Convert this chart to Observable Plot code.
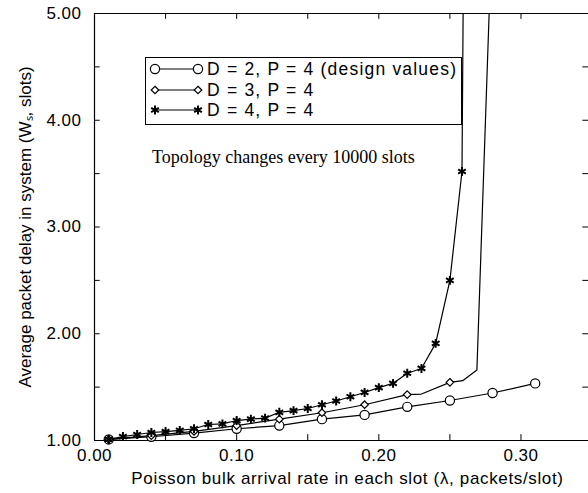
<!DOCTYPE html>
<html><head><meta charset="utf-8">
<script src="https://cdn.jsdelivr.net/npm/d3@7"></script>
<script src="https://cdn.jsdelivr.net/npm/@observablehq/plot@0.6"></script>
<style>
html,body{margin:0;padding:0;background:#fff;}
#wrap{position:relative;width:588px;height:493px;font-family:"Liberation Sans",Arial,sans-serif;color:#000;}
#legend{position:absolute;left:145px;top:57px;width:317px;height:68px;border:1px solid #000;box-sizing:border-box;}
#note{position:absolute;left:152px;top:146px;font-family:"Liberation Serif","Times New Roman",serif;font-size:18px;line-height:22px;white-space:nowrap;}
#chart svg text{letter-spacing:0.5px;}
</style></head>
<body><div id="wrap"><div id="chart"></div><div id="legend"></div><div id="note">Topology changes every 10000 slots</div></div>
<script>
// ---- data ----
const seriesNames = ["D = 2, P = 4 (design values)", "D = 3, P = 4", "D = 4, P = 4"];
// D = 2 (circles)
const d2x = [0.01,0.04,0.07,0.10,0.13,0.16,0.19,0.22,0.25,0.28,0.31];
const d2y = [1.01,1.035,1.07,1.11,1.14,1.20,1.24,1.315,1.375,1.445,1.535];
// D = 3 (diamonds): markers, then full line vertices
const d3mx = [0.01,0.04,0.07,0.10,0.13,0.16,0.19,0.22,0.25];
const d3my = [1.01,1.045,1.085,1.14,1.20,1.26,1.335,1.43,1.545];
const d3lx = [0.01,0.04,0.07,0.10,0.13,0.16,0.19,0.22,0.23,0.25,0.259,0.269,0.2776];
const d3ly = [1.01,1.045,1.085,1.14,1.20,1.26,1.335,1.43,1.435,1.545,1.56,1.66,5.0];
// D = 4 (stars)
const d4mx = [0.01,0.02,0.03,0.04,0.05,0.06,0.07,0.08,0.09,0.10,0.11,0.12,0.13,0.14,0.15,0.16,0.17,0.18,0.19,0.20,0.21,0.22,0.23,0.24,0.25,0.2585];
const d4my = [1.01,1.037,1.056,1.075,1.084,1.095,1.11,1.15,1.156,1.187,1.20,1.21,1.264,1.28,1.30,1.335,1.37,1.41,1.45,1.495,1.535,1.63,1.675,1.91,2.50,3.52];
const d4tailx = [0.2593];
const d4taily = [5.0];
// axis ticks
const xTickLabels = [0, 0.10, 0.20, 0.30];
const xMinorTicks = [0.05,0.10,0.15,0.20,0.25,0.30];
const yTickLabels = [1, 2, 3, 4, 5];
const yMinorTicks = [1.5,2,2.5,3,3.5,4,4.5];
const xLabel = "Poisson bulk arrival rate in each slot (\u03bb, packets/slot)";
const yLabel = "Average packet delay in system (W\u209b, slots)";

// ---- build tables ----
const zip = (xs, ys) => xs.map((x, i) => ({x, y: ys[i]}));
const d2 = zip(d2x, d2y);
const d3m = zip(d3mx, d3my), d3l = zip(d3lx, d3ly);
const d4m = zip(d4mx, d4my), d4l = d4m.concat(zip(d4tailx, d4taily));

const xMax = 0.3475;
const tx = 0.004, ty = 0.055;

const chart = Plot.plot({
  width: 588, height: 493,
  marginLeft: 94, marginRight: 0, marginTop: 13, marginBottom: 53,
  style: {fontSize: "17px", fontFamily: "Liberation Sans, Arial, sans-serif", color: "#000", background: "#fff"},
  x: {domain: [0, xMax]},
  y: {domain: [1, 5]},
  marks: [
    // frame lines
    Plot.ruleY([1, 5], {stroke: "#000", strokeWidth: 1.2}),
    Plot.ruleX([0], {stroke: "#000", strokeWidth: 1.2}),
    // inward ticks
    Plot.ruleY(yMinorTicks, {y: d => d, x1: 0, x2: tx, stroke: "#000"}),
    Plot.ruleY(yMinorTicks, {y: d => d, x1: xMax - tx, x2: xMax, stroke: "#000"}),
    Plot.ruleX(xMinorTicks, {x: d => d, y1: 1, y2: 1 + ty, stroke: "#000"}),
    Plot.ruleX(xMinorTicks, {x: d => d, y1: 5 - ty, y2: 5, stroke: "#000"}),
    // tick labels
    Plot.axisX({ticks: xTickLabels, tickFormat: d3.format(".2f"), tickSize: 0, tickPadding: 8, label: null, fontSize: 17}),
    Plot.axisY({ticks: yTickLabels, tickFormat: d3.format(".2f"), tickSize: 0, tickPadding: 13, label: null, fontSize: 17}),
    // axis titles
    Plot.text([xLabel], {text: d => d, frameAnchor: "bottom", textAnchor: "middle", lineAnchor: "middle", dx: 6, dy: 38, fontSize: 17}),
    Plot.text([yLabel], {text: d => d, frameAnchor: "left", textAnchor: "middle", lineAnchor: "middle", dx: -69, dy: 0, rotate: -90, fontSize: 17}),
    // series
    Plot.line(d2, {x: "x", y: "y", stroke: "#000", strokeWidth: 1.2, clip: true}),
    Plot.dot(d2, {x: "x", y: "y", symbol: "circle", r: 4.6, stroke: "#000", fill: "#fff", strokeWidth: 1.2}),
    Plot.line(d3l, {x: "x", y: "y", stroke: "#000", strokeWidth: 1.2, clip: true}),
    Plot.dot(d3m, {x: "x", y: "y", symbol: "diamond2", r: 3.4, stroke: "#000", fill: "#fff", strokeWidth: 1.2}),
    Plot.line(d4l, {x: "x", y: "y", stroke: "#000", strokeWidth: 1.2, clip: true}),
    Plot.dot(d4m, {x: "x", y: "y", symbol: "asterisk", r: 4.2, stroke: "#000", strokeWidth: 2})
  ]
});
document.getElementById("chart").appendChild(chart);
// per-text spacing tweaks to match the original typeface widths
d3.select(chart).selectAll("text").filter(function () { return this.textContent === xLabel; }).style("letter-spacing", "0.65px");
d3.select(chart).selectAll("text").filter(function () { return this.textContent === yLabel; }).style("letter-spacing", "0px");

// ---- legend (inside plot area, as in the original) ----
const symSpecs = [
  {sym: d3.symbolCircle, r: 4.6, fill: "#fff", sw: 1.2},
  {sym: d3.symbolDiamond2, r: 3.4, fill: "#fff", sw: 1.2},
  {sym: d3.symbolAsterisk, r: 4.2, fill: "none", sw: 2}
];
const rowY = [12, 33, 53];
const lsvg = d3.create("svg").attr("width", 315).attr("height", 66)
  .style("position", "absolute").style("left", "0").style("top", "0").style("overflow", "visible");
seriesNames.forEach((name, i) => {
  const g = lsvg.append("g").attr("transform", `translate(0,${rowY[i] - 1})`);
  g.append("line").attr("x1", 9).attr("x2", 52).attr("y1", 0).attr("y2", 0).attr("stroke", "#000").attr("stroke-width", 1.2);
  const s = symSpecs[i];
  const p = d3.symbol(s.sym, Math.PI * s.r * s.r)();
  [9, 52].forEach(cx => g.append("path").attr("d", p).attr("transform", `translate(${cx},0)`)
    .attr("fill", s.fill).attr("stroke", "#000").attr("stroke-width", s.sw));
  g.append("text").attr("x", 61).attr("y", 0).attr("dy", "0.35em")
    .attr("font-size", 17.5).attr("letter-spacing", "1.2px")
    .attr("font-family", "Liberation Sans, Arial, sans-serif").text(name);
});
document.getElementById("legend").appendChild(lsvg.node());
</script>
</body></html>
